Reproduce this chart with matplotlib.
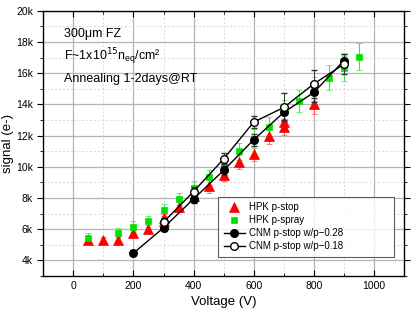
import matplotlib
matplotlib.use("Agg")
import matplotlib.pyplot as plt
from matplotlib.ticker import MultipleLocator, FuncFormatter
from matplotlib.lines import Line2D

plt.rcParams['font.family'] = ['Liberation Sans', 'DejaVu Sans']

# HPK p-stop (red triangles)
hpk_stop_v = [50, 100, 150, 200, 250, 300, 300, 350, 400, 450, 500, 550, 600, 650, 700, 700, 800]
hpk_stop_s = [5300, 5320, 5280, 5770, 6000, 6700, 6550, 7430, 8100, 8750, 9500, 10300, 10840, 11950, 12840, 12540, 14010]
hpk_stop_e = [200, 200, 200, 250, 250, 300, 300, 350, 350, 400, 400, 450, 500, 500, 500, 500, 600]

# HPK p-spray (green squares)
hpk_spray_v = [50, 150, 200, 250, 300, 350, 400, 450, 500, 550, 600, 650, 700, 750, 800, 850, 900, 950]
hpk_spray_s = [5450, 5770, 6150, 6510, 7210, 7940, 8640, 9320, 10070, 10980, 11800, 12540, 13600, 14220, 14970, 15710, 16310, 17060]
hpk_spray_e = [300, 300, 350, 350, 400, 400, 450, 500, 500, 550, 600, 650, 700, 700, 750, 800, 800, 850]

# CNM p-stop w/p-0.28 (filled circles)
cnm28_v = [200, 300, 400, 500, 600, 700, 800, 900]
cnm28_s = [4470, 6090, 7940, 9770, 11730, 13480, 14760, 16800]
cnm28_e = [150, 200, 250, 300, 400, 500, 600, 400]

# CNM p-stop w/p-0.18 (open circles)
cnm18_v = [300, 400, 500, 600, 700, 800, 900]
cnm18_s = [6450, 8410, 10500, 12860, 13800, 15310, 16570]
cnm18_e = [250, 300, 350, 400, 900, 900, 650]

labels = ['HPK p-stop', 'HPK p-spray', 'CNM p-stop w/p\u22120.28', 'CNM p-stop w/p\u22120.18']

fig = plt.figure(figsize=(4.15, 3.2), dpi=100)
ax = fig.add_axes([0.1043, 0.1375, 0.8692, 0.8291])

ax.set_xlim(-100, 1100)
ax.set_ylim(3000, 20000)
ax.xaxis.set_major_locator(MultipleLocator(200))
ax.xaxis.set_minor_locator(MultipleLocator(100))
ax.yaxis.set_major_locator(MultipleLocator(2000))
ax.yaxis.set_minor_locator(MultipleLocator(1000))
ax.yaxis.set_major_formatter(FuncFormatter(lambda v, p: f"{int(v/1000)}k"))

ax.grid(which='major', color='#b4b4b4', lw=0.9, ls='-', zorder=0)
ax.grid(which='minor', color='#d8d8d8', lw=0.7, ls=(0, (2, 2)), zorder=0)
ax.set_axisbelow(True)

ax.tick_params(axis='x', which='both', direction='in', top=True, bottom=True, labelsize=7.5)
ax.tick_params(axis='y', which='both', direction='out', left=True, right=True, labelsize=7.5)
ax.tick_params(which='major', length=4, width=0.8)
ax.tick_params(which='minor', length=2, width=0.6)
for s in ax.spines.values():
    s.set_linewidth(1.0)

ax.errorbar(hpk_stop_v, hpk_stop_s, yerr=hpk_stop_e, fmt='^', color='#ff0000',
            ecolor='#ff5555', elinewidth=0.8, capsize=2.5, markersize=6.5,
            markeredgewidth=0.5, zorder=3)
ax.errorbar(hpk_spray_v, hpk_spray_s, yerr=hpk_spray_e, fmt='s', color='#00e000',
            ecolor='#33ee33', elinewidth=0.8, capsize=2.5, markersize=5,
            markeredgewidth=0.5, zorder=3)
ax.errorbar(cnm28_v, cnm28_s, yerr=cnm28_e, fmt='-o', color='black',
            ecolor='#333333', elinewidth=0.7, capsize=2.5, markersize=5.5,
            lw=1.0, zorder=4)
ax.errorbar(cnm18_v, cnm18_s, yerr=cnm18_e, fmt='-o', color='black',
            mfc='white', ecolor='#333333', elinewidth=0.7, capsize=2.5, markersize=5.5,
            lw=1.0, zorder=4)

ax.set_xlabel('Voltage (V)', fontsize=9.5)
ax.set_ylabel('signal (e-)', fontsize=9.5)
ax.yaxis.set_label_coords(-0.082, 0.5)

ax.text(0.058, 0.9, '300\u03bcm FZ', transform=ax.transAxes, fontsize=9)
ax.text(0.058, 0.815, 'F~1x10$^{15}$n$_{\\mathregular{eq}}$/cm\u00b2', transform=ax.transAxes, fontsize=9)
ax.text(0.058, 0.73, 'Annealing 1-2days@RT', transform=ax.transAxes, fontsize=9)

handles = [
    Line2D([], [], ls='none', marker='^', color='#ff0000', markersize=6.5, markeredgewidth=0.5),
    Line2D([], [], ls='none', marker='s', color='#00e000', markersize=5, markeredgewidth=0.5),
    Line2D([], [], ls='-', marker='o', color='black', markersize=5.5, lw=1.0),
    Line2D([], [], ls='-', marker='o', color='black', mfc='white', markersize=5.5, lw=1.0),
]
leg = ax.legend(handles, labels, loc='lower left', fontsize=7, frameon=True, fancybox=False,
                edgecolor='#333333', handlelength=2.2, handletextpad=0.4,
                labelspacing=0.3, borderpad=0.6, mode='expand', borderaxespad=0,
                bbox_to_anchor=(0.484, 0.0716, 0.488, 0.214))
leg.get_frame().set_linewidth(0.8)

fig.savefig('out.png', dpi=100)
